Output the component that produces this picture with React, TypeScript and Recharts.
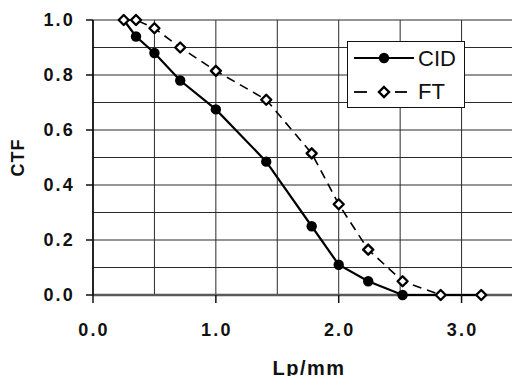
import {
  LineChart,
  Line,
  XAxis,
  YAxis,
  CartesianGrid,
  Legend,
  Label,
  ReferenceLine,
} from "recharts";

// values
const lpmm = [0.25, 0.35, 0.5, 0.71, 1.0, 1.41, 1.78, 2.0, 2.24, 2.52, 2.83, 3.16];
const cidValues = [1.0, 0.94, 0.88, 0.78, 0.675, 0.485, 0.25, 0.11, 0.05, 0.0, 0.0, 0.0];
const ftValues = [1.0, 1.0, 0.97, 0.9, 0.815, 0.71, 0.515, 0.33, 0.165, 0.05, 0.0, 0.0];

const xTicks = [0, 0.5, 1, 1.5, 2, 2.5, 3, 3.5];
const yTicks = [0, 0.1, 0.2, 0.3, 0.4, 0.5, 0.6, 0.7, 0.8, 0.9, 1.0];

const data = lpmm.map((x, i) => ({ x, cid: cidValues[i], ft: ftValues[i] }));

const FONT = "Arial, 'Liberation Sans', sans-serif";
const tickStyle = {
  fontFamily: FONT,
  fontWeight: "bold" as const,
  fontSize: 18,
  letterSpacing: 2.2,
  fill: "#111",
};

function XTick(props: any) {
  const { x, y, payload } = props;
  const v = payload.value;
  if (Math.abs(v - Math.round(v)) > 1e-6) return <g />;
  // y = axis + tickSize + tickMargin
  return (
    <g>
      <line x1={x} x2={x} y1={y - 28} y2={y - 20} stroke="#111" strokeWidth={1.5} />
      <text x={x + 1} y={y} dy="0.71em" textAnchor="middle" style={tickStyle}>
        {v.toFixed(1)}
      </text>
    </g>
  );
}

function YTick(props: any) {
  const { x, y, payload } = props;
  const v = payload.value;
  if (Math.round(v * 10) % 2 !== 0) return <g />;
  return (
    <g>
      <line x1={x + 11} x2={x + 18} y1={y} y2={y} stroke="#111" strokeWidth={1.5} />
      <text x={x} y={y} dy="0.36em" textAnchor="end" style={tickStyle}>
        {v.toFixed(1)}
      </text>
    </g>
  );
}

function CidDot(props: any) {
  const { cx, cy, index } = props;
  // hidden where the FT marker sits on top of it
  if (ftValues[index] === cidValues[index]) return <g key={`cid-${index}`} />;
  return <circle key={`cid-${index}`} cx={cx} cy={cy} r={5.2} fill="#000" />;
}

function FtDot(props: any) {
  const { cx, cy, index } = props;
  const s = 5;
  return (
    <path
      key={`ft-${index}`}
      d={`M${cx},${cy - s}L${cx + s},${cy}L${cx},${cy + s}L${cx - s},${cy}Z`}
      fill="#fff"
      stroke="#000"
      strokeWidth={2.4}
      strokeLinejoin="round"
    />
  );
}

function LegendBox() {
  const txt = { fontFamily: FONT, fontSize: 22, fill: "#111" };
  return (
    <div
      style={{
        width: 118,
        height: 67,
        boxSizing: "border-box",
        border: "1.5px solid #111",
        background: "#fff",
      }}
    >
      <svg width={115} height={64} style={{ display: "block" }}>
        <line x1={6} x2={66} y1={16} y2={16} stroke="#000" strokeWidth={2} />
        <circle cx={36} cy={16} r={5.2} fill="#000" />
        <text x={70} y={24} style={txt}>
          CID
        </text>
        <line x1={6} x2={19} y1={50} y2={50} stroke="#000" strokeWidth={1.8} />
        <line x1={47} x2={59} y1={50} y2={50} stroke="#000" strokeWidth={1.8} />
        <path d="M36,45L41,50L36,55L31,50Z" fill="#fff" stroke="#000" strokeWidth={2.4} />
        <text x={70} y={57} style={txt}>
          FT
        </text>
      </svg>
    </div>
  );
}

export default function App() {
  return (
    <div
      style={{
        margin: -8,
        width: 520,
        height: 384,
        overflow: "hidden",
        background: "#fff",
        position: "relative",
      }}
    >
      <LineChart
        width={530}
        height={384}
        data={data}
        margin={{ top: 20, right: 7, bottom: 0, left: 0 }}
      >
        <CartesianGrid stroke="#2a2a2a" strokeWidth={1} />
        <XAxis
          dataKey="x"
          type="number"
          domain={[0, 3.5]}
          ticks={xTicks}
          height={89}
          tickSize={8}
          tickMargin={20}
          tickLine={false}
          tick={<XTick />}
          interval={0}
          axisLine={false}
        >
          <Label
            content={(p: any) => {
              const vb = p.viewBox;
              return (
                <text
                  x={vb.x + vb.width / 2 + 1}
                  y={375}
                  textAnchor="middle"
                  style={{
                    fontFamily: FONT,
                    fontWeight: "bold",
                    fontSize: 20,
                    letterSpacing: 1.5,
                    fill: "#111",
                  }}
                >
                  Lp/mm
                </text>
              );
            }}
          />
        </XAxis>
        <YAxis
          type="number"
          domain={[0, 1]}
          ticks={yTicks}
          width={93}
          tickSize={7}
          tickMargin={11}
          tickLine={false}
          tick={<YTick />}
          interval={0}
          axisLine={{ stroke: "#000", strokeWidth: 1.5 }}
        >
          <Label
            content={(p: any) => {
              const vb = p.viewBox;
              const cx = 18;
              const cy = vb.y + vb.height / 2;
              return (
                <text
                  x={cx}
                  y={cy}
                  dy="0.36em"
                  transform={`rotate(-90, ${cx}, ${cy})`}
                  textAnchor="middle"
                  style={{
                    fontFamily: FONT,
                    fontWeight: "bold",
                    fontSize: 18,
                    letterSpacing: 1,
                    fill: "#111",
                  }}
                >
                  CTF
                </text>
              );
            }}
          />
        </YAxis>
        <ReferenceLine y={0} stroke="#5a5a5a" strokeWidth={2.5} />
        <Legend
          layout="horizontal"
          verticalAlign="middle"
          align="center"
          content={() => <LegendBox />}
          wrapperStyle={{ position: "absolute", left: 347, top: 41, width: "auto" }}
        />
        <Line
          dataKey="cid"
          name="CID"
          type="linear"
          stroke="#000"
          strokeWidth={2.2}
          dot={CidDot}
          activeDot={false}
          isAnimationActive={false}
        />
        <Line
          dataKey="ft"
          name="FT"
          type="linear"
          stroke="#000"
          strokeWidth={1.6}
          strokeDasharray="9 6"
          dot={FtDot}
          activeDot={false}
          isAnimationActive={false}
        />
      </LineChart>
    </div>
  );
}
